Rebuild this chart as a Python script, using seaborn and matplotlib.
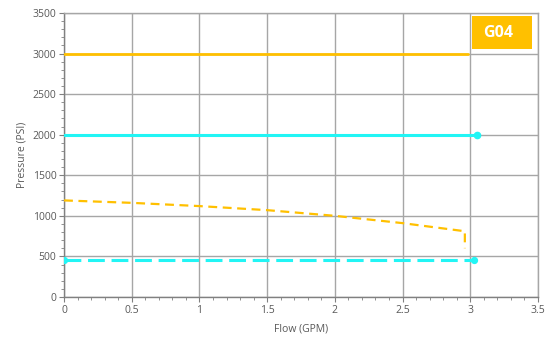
import matplotlib
matplotlib.use("Agg")
import matplotlib.pyplot as plt
import seaborn as sns
import pandas as pd
from matplotlib.ticker import MultipleLocator
from matplotlib.patches import Rectangle

# Data
relief_flow = [0.0, 2.98]
relief_psi = [3000, 3000]
rated_flow = [0.0, 3.05]
rated_psi = [2000, 2000]
curve_flow = [0.0, 0.5, 1.0, 1.5, 2.0, 2.5, 2.96, 2.96]
curve_psi = [1190, 1160, 1120, 1070, 1000, 910, 810, 600]
low_flow = [0.0, 3.03]
low_psi = [450, 450]
badge = "G04"

ORANGE = "#FFC000"
CYAN = "#22F5F5"

sns.set_style("white")
plt.rcParams['font.family'] = ['Open Sans', 'DejaVu Sans']

fig = plt.figure(figsize=(5.47, 3.39), dpi=100)
ax = fig.add_axes([0.117, 0.124, 0.8665, 0.8377])

df1 = pd.DataFrame({"x": relief_flow, "y": relief_psi})
df2 = pd.DataFrame({"x": rated_flow, "y": rated_psi})
df3 = pd.DataFrame({"x": curve_flow, "y": curve_psi})
df4 = pd.DataFrame({"x": low_flow, "y": low_psi})

sns.lineplot(data=df1, x="x", y="y", ax=ax, color=ORANGE, lw=2.0, sort=False,
             estimator=None, zorder=3)
sns.lineplot(data=df2, x="x", y="y", ax=ax, color=CYAN, lw=2.2, sort=False,
             estimator=None, zorder=3)
ax.plot(rated_flow[-1:], rated_psi[-1:], "o", color=CYAN, ms=4.5, zorder=4, clip_on=False)
sns.lineplot(data=df3, x="x", y="y", ax=ax, color=ORANGE, lw=1.6, sort=False,
             estimator=None, zorder=3)
ax.lines[-1].set_dashes([4, 2.5])
sns.lineplot(data=df4, x="x", y="y", ax=ax, color=CYAN, lw=2.2, sort=False,
             estimator=None, zorder=3)
ax.lines[-1].set_dashes([5.5, 2.2])
ax.plot(low_flow, low_psi, "o", color=CYAN, ms=4.2, zorder=4)

ax.set_xlim(0, 3.5)
ax.set_ylim(0, 3500)
ax.xaxis.set_major_locator(MultipleLocator(0.5))
ax.xaxis.set_minor_locator(MultipleLocator(0.1))
ax.yaxis.set_major_locator(MultipleLocator(500))
ax.yaxis.set_minor_locator(MultipleLocator(100))
ax.set_xticklabels([f"{v:g}" for v in ax.get_xticks()])
ax.grid(True, which="major", color="#a6a6a6", lw=1.0, zorder=0)
ax.set_axisbelow(True)

ax.tick_params(axis="both", which="major", direction="out", length=3.5, width=0.8,
               color="#808080", labelsize=7.5, labelcolor="#595959", pad=2)
ax.tick_params(axis="both", which="minor", direction="out", length=2, width=0.6,
               color="#808080")
ax.tick_params(axis="x", which="both", bottom=True)
ax.tick_params(axis="y", which="both", left=True)

for side in ["top", "right"]:
    ax.spines[side].set_color("#a6a6a6")
    ax.spines[side].set_linewidth(1.0)
for side in ["left", "bottom"]:
    ax.spines[side].set_color("#808080")
    ax.spines[side].set_linewidth(1.0)

ax.set_xlabel("Flow (GPM)", fontsize=7.5, color="#595959", labelpad=6)
ax.set_ylabel("Pressure (PSI)", fontsize=7.5, color="#595959", labelpad=4)

fig.patches.append(Rectangle((0.863, 0.855), 0.110, 0.098, transform=fig.transFigure,
                             fc=ORANGE, ec="none", zorder=5))
fig.text(0.910, 0.903, badge, fontsize=11.5, fontweight="bold", color="white",
         ha="center", va="center", zorder=6)

fig.savefig("out.png", dpi=100)
